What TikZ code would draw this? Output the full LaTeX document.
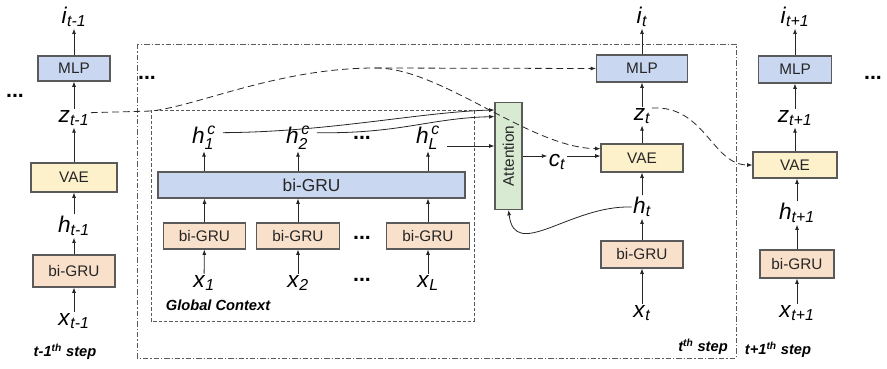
\documentclass[tikz,border=0pt]{standalone}
\usepackage{amsmath}
\usepackage{fontspec}
\setmainfont{Liberation Sans}
\usetikzlibrary{arrows.meta}

\definecolor{mlpblue}{HTML}{C9D7F0}
\definecolor{vaeyellow}{HTML}{FDF1CB}
\definecolor{gruorange}{HTML}{F9E0CA}
\definecolor{attgreen}{HTML}{D9EAD3}
\definecolor{edgegray}{HTML}{5A5A5A}

\begin{document}
\begin{tikzpicture}[x=0.75pt, y=-0.75pt,
    box/.style={draw=edgegray, line width=0.8pt, inner sep=0pt, text=black!85, font=\fontsize{11.5}{13}\selectfont},
    mlp/.style={box, fill=mlpblue},
    vae/.style={box, fill=vaeyellow},
    gru/.style={box, fill=gruorange},
    lab/.style={inner sep=1pt, font=\fontsize{17}{19}\selectfont},
    dots/.style={inner sep=0pt, font=\bfseries\fontsize{16}{18}\selectfont},
    stp/.style={inner sep=0pt, font=\bfseries\itshape\fontsize{11}{13}\selectfont},
    arr/.style={-{Latex[length=4pt,width=3pt]}, line width=0.6pt, black!85},
    dline/.style={line width=0.6pt, black!85, dash pattern=on 5pt off 3pt},
    darr/.style={arr, dash pattern=on 5pt off 3pt}]
    \useasboundingbox (0,0) rectangle (887,368);

    \draw[edgegray, line width=0.6pt, dash pattern=on 4pt off 1.5pt on 1pt off 1.5pt] (137,44) rectangle (736,358);
    \draw[edgegray, line width=0.6pt, dash pattern=on 2.5pt off 1.5pt] (151,110) rectangle (474,321);

    \node[mlp, minimum width=54pt, minimum height=18.75pt] (mlpA) at (74,68.5) {MLP};
    \node[vae, minimum width=64.5pt, minimum height=21.75pt] (vaeA) at (74,177.5) {VAE};
    \node[gru, minimum width=61.5pt, minimum height=24pt] (gruA) at (74,271) {bi-GRU};
    \node[lab] (iA) at (74,17) {\textit{i}$_{\textit{t-1}}$};
    \node[lab] (zA) at (74,118) {\textit{z}$_{\textit{t-1}}$};
    \node[lab] (hA) at (74,226) {\textit{h}$_{\textit{t-1}}$};
    \node[lab] (xA) at (74,321) {\textit{x}$_{\textit{t-1}}$};

    \node[mlp, minimum width=68.25pt, minimum height=20.25pt] (mlpB) at (642,68.5) {MLP};
    \node[vae, minimum width=61.5pt, minimum height=21pt] (vaeB) at (642,158) {VAE};
    \node[gru, minimum width=61.5pt, minimum height=20.25pt] (gruB) at (642,254.5) {bi-GRU};
    \node[lab] (iB) at (642,17) {\textit{i}$_{\textit{t}}$};
    \node[lab] (zB) at (642,116) {\textit{z}$_{\textit{t}}$};
    \node[lab] (hB) at (642,207) {\textit{h}$_{\textit{t}}$};
    \node[lab] (xB) at (642,313) {\textit{x}$_{\textit{t}}$};

    \node[mlp, minimum width=54.75pt, minimum height=20.25pt] (mlpC) at (795,69.5) {MLP};
    \node[vae, minimum width=63pt, minimum height=19.5pt] (vaeC) at (795,165) {VAE};
    \node[gru, minimum width=55.5pt, minimum height=21pt] (gruC) at (797,264) {bi-GRU};
    \node[lab] (iC) at (795,17) {\textit{i}$_{\textit{t+1}}$};
    \node[lab] (zC) at (795,118) {\textit{z}$_{\textit{t+1}}$};
    \node[lab] (hC) at (797,213) {\textit{h}$_{\textit{t+1}}$};
    \node[lab] (xC) at (797,313) {\textit{x}$_{\textit{t+1}}$};

    \node[mlp, minimum width=230.25pt, minimum height=19.5pt, font=\fontsize{13}{15}\selectfont] (ctxgru) at (311.5,185) {bi-GRU};
    \node[gru, minimum width=62pt, minimum height=19.5pt] (gru1) at (204.5,236) {bi-GRU};
    \node[gru, minimum width=62pt, minimum height=19.5pt] (gru2) at (298,236) {bi-GRU};
    \node[gru, minimum width=62pt, minimum height=19.5pt] (gruL) at (428,236) {bi-GRU};
    \node[lab] (h1c) at (204,138) {\textit{h}$_{\textit{1}}^{\,\textit{c}}$};
    \node[lab] (h2c) at (298,138) {\textit{h}$_{\textit{2}}^{\,\textit{c}}$};
    \node[lab] (hLc) at (428,138) {\textit{h}$_{\textit{L}}^{\,\textit{c}}$};
    \node[lab] (x1) at (204,283) {\textit{x}$_{\textit{1}}$};
    \node[lab] (x2) at (298,283) {\textit{x}$_{\textit{2}}$};
    \node[lab] (xL) at (428,283) {\textit{x}$_{\textit{L}}$};

    \node[box, fill=attgreen, minimum width=20.25pt, minimum height=80.25pt] (att) at (508.5,156) {\rotatebox{90}{Attention}};
    \node[lab] (ct) at (557,162) {\textit{c}$_{\textit{t}}$};

    \node[dots] (dotsA) at (15,96) {...};
    \node[dots] (dotsB) at (147,78) {...};
    \node[dots] (dotsh) at (362,138) {...};
    \node[dots] (dotsg) at (362,238) {...};
    \node[dots] (dotsx) at (362,280) {...};
    \node[dots] (dotsC) at (873,78) {...};

    \node[stp] (stepA) at (65,352) {t-1\textsuperscript{th} step};
    \node[stp] (stepB) at (703,347) {t\textsuperscript{th} step};
    \node[stp] (stepC) at (778,350) {t+1\textsuperscript{th} step};
    \node[stp] (gctx) at (218,305) {Global Context};

    \draw[arr] (xA) -- (gruA);
    \draw[arr] (gruA) -- (hA);
    \draw[arr] (hA) -- (vaeA);
    \draw[arr] (vaeA) -- (zA);
    \draw[arr] (zA) -- (mlpA);
    \draw[arr] (mlpA) -- (iA);

    \draw[arr] (xB) -- (gruB);
    \draw[arr] (gruB) -- (hB);
    \draw[arr] (hB) -- (vaeB);
    \draw[arr] (vaeB) -- (zB);
    \draw[arr] (zB) -- (mlpB);
    \draw[arr] (mlpB) -- (iB);

    \draw[arr] (xC) -- (gruC);
    \draw[arr] (gruC) -- (hC);
    \draw[arr] (hC) -- (hC |- vaeC.south);
    \draw[arr] (zC |- vaeC.north) -- (zC);
    \draw[arr] (zC) -- (mlpC);
    \draw[arr] (mlpC) -- (iC);

    \draw[arr] (x1) -- (gru1);
    \draw[arr] (x2) -- (gru2);
    \draw[arr] (xL) -- (gruL);
    \draw[arr] (gru1) -- (gru1 |- ctxgru.south);
    \draw[arr] (gru2) -- (gru2 |- ctxgru.south);
    \draw[arr] (gruL) -- (gruL |- ctxgru.south);
    \draw[arr] (h1c |- ctxgru.north) -- (h1c);
    \draw[arr] (h2c |- ctxgru.north) -- (h2c);
    \draw[arr] (hLc |- ctxgru.north) -- (hLc);

    \draw[arr] ([xshift=4pt,yshift=4pt]h1c.east) .. controls (330,132) and (420,112) .. ([yshift=-6pt]att.north west);
    \draw[arr] ([xshift=4pt,yshift=4pt]h2c.east) .. controls (400,134) and (430,118) .. ([yshift=-11pt]att.north west);
    \draw[arr] ([xshift=4pt,yshift=-6pt]hLc.east) -- ([yshift=-6pt]hLc.east -| att.west);
    \draw[arr] (att.east) -- (att.east -| ct.west);
    \draw[arr] (ct.east |- att.east) -- (vaeB.west |- att.east);
    \draw[arr] (hB.west) .. controls (570,205) and (515,262) .. (att.south);

    \coordinate (zbend) at (152,111);
    \coordinate (zpeak) at (375,68);
    \draw[dline] ([yshift=4pt]zA.east) -- (zbend) .. controls (200,105) and (280,68) .. (zpeak);
    \draw[darr] (zpeak) -- (mlpB.west);
    \draw[darr] (zpeak) .. controls (440,67) and (530,148) .. ([yshift=7pt]vaeB.west);
    \draw[darr] ([yshift=6pt]zB.east) .. controls (705,105) and (712,165) .. (vaeC.west);
\end{tikzpicture}
\end{document}
